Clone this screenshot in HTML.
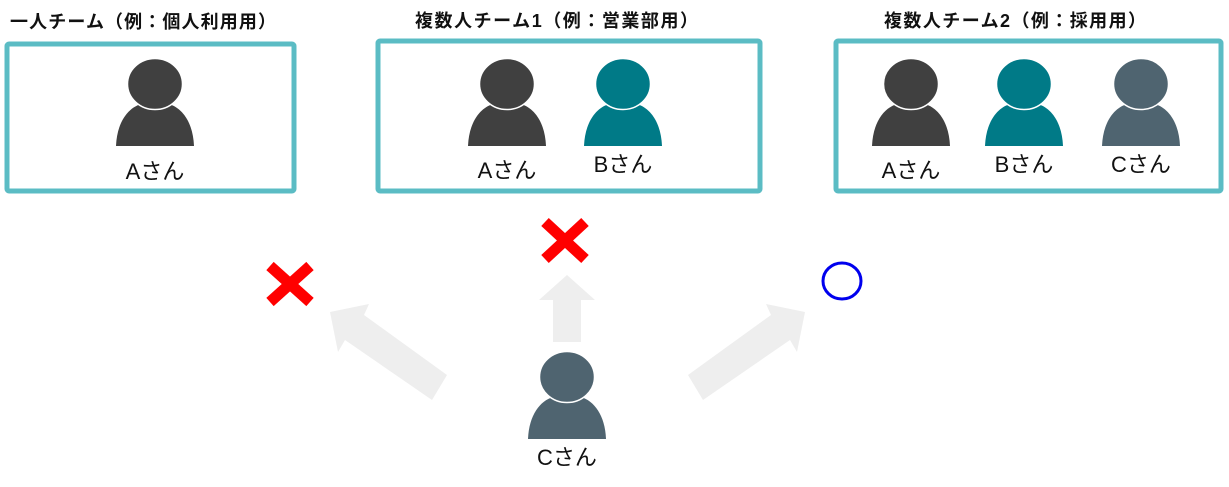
<!DOCTYPE html>
<html><head><meta charset="utf-8"><style>
html,body{margin:0;padding:0;background:#fff;width:1229px;height:487px;overflow:hidden}
svg text{font-family:"Liberation Sans","Noto Sans CJK JP",sans-serif}
</style></head><body>
<svg width="1229" height="487" viewBox="0 0 1229 487" xmlns="http://www.w3.org/2000/svg">
<defs>
<g id="p">
<path d="M-39,62 C-38,38 -27,24 -14,20 L14,20 C27,24 38,38 39,62 Z"/>
<ellipse cx="0" cy="0" rx="27.5" ry="25.5" stroke="#fff" stroke-width="1.5"/>
</g>
</defs>
<g font-weight="bold" font-size="18" fill="#111">
<text x="10" y="28" textLength="266">一人チーム（例：個人利用用）</text>
<text x="415" y="27" textLength="283">複数人チーム1（例：営業部用）</text>
<text x="884" y="27" textLength="262">複数人チーム2（例：採用用）</text>
</g>
<g fill="none" stroke="#5bbcc4" stroke-width="5">
<rect x="7" y="44" width="287" height="147" rx="2"/>
<rect x="378" y="41" width="382" height="150" rx="2"/>
<rect x="836" y="41" width="385" height="150" rx="2"/>
</g>
<use href="#p" x="155" y="84" fill="#404040"/>
<use href="#p" x="507" y="84" fill="#404040"/>
<use href="#p" x="623" y="84" fill="#007a87"/>
<use href="#p" x="911" y="84" fill="#404040"/>
<use href="#p" x="1024" y="84" fill="#007a87"/>
<use href="#p" x="1141" y="84" fill="#4f6470"/>
<use href="#p" x="567" y="377" fill="#4f6470"/>
<g font-size="22" fill="#111" text-anchor="middle">
<text x="155" y="179">Aさん</text>
<text x="507" y="178">Aさん</text>
<text x="623" y="172">Bさん</text>
<text x="911" y="178">Aさん</text>
<text x="1024" y="172">Bさん</text>
<text x="1141" y="172">Cさん</text>
<text x="567" y="465">Cさん</text>
</g>
<g fill="#eeeeee">
<polygon points="553,342 581,342 581,300 595,300 567,275 539,300 553,300"/>
<polygon points="447,375 432,400 345,340 338,352 330,312 369,304 364,315"/>
<polygon points="688,375 703,400 790,340 797,352 805,312 766,304 771,315"/>
</g>
<g stroke="#ff0000" stroke-width="11">
<line x1="270" y1="266" x2="310" y2="302"/><line x1="310" y1="266" x2="270" y2="302"/>
<line x1="545" y1="222" x2="585" y2="259"/><line x1="585" y1="222" x2="545" y2="259"/>
</g>
<ellipse cx="842" cy="281" rx="19" ry="18" fill="none" stroke="#0000ee" stroke-width="3"/>
</svg>
</body></html>
